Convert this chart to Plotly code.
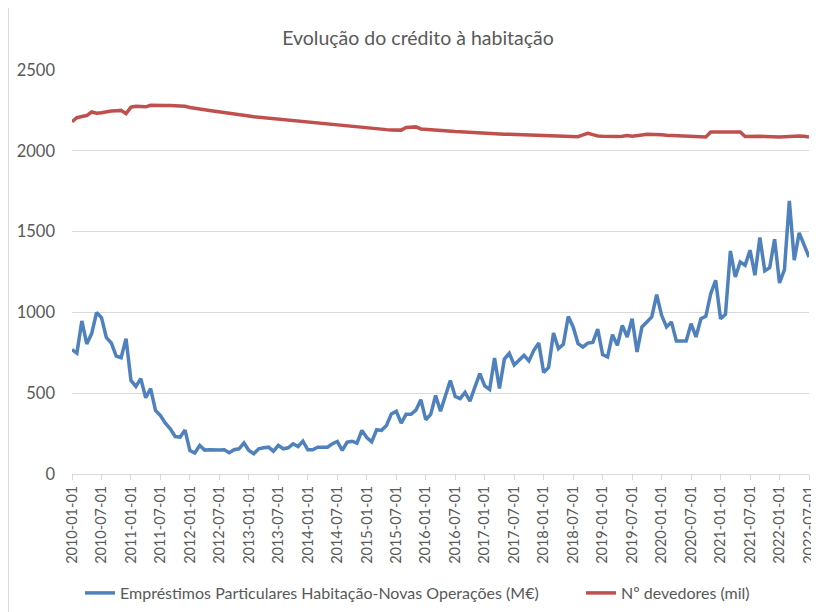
import plotly.graph_objects as go

# Monthly dates 2010-01 .. 2022-07
years = list(range(2010, 2023))
dates = [f"{y}-{m:02d}-01" for y in years for m in range(1, 13)][:151]

emprestimos = [
    770, 748, 947, 805, 869, 999, 968, 844, 811, 730, 720, 838,
    579, 542, 590, 472, 528, 393, 362, 315, 280, 232, 228, 272,
    145, 130, 177, 148, 150, 148, 148, 150, 132, 150, 156, 192,
    146, 125, 156, 162, 166, 141, 177, 156, 162, 187, 170, 203,
    150, 150, 166, 166, 166, 187, 201, 146, 197, 203, 191, 270,
    225, 199, 274, 270, 300, 372, 389, 315, 369, 369, 395, 460,
    336, 369, 486, 389, 480, 579, 480, 466, 505, 451, 538, 621,
    545, 523, 717, 529, 711, 747, 675, 701, 734, 700, 765, 810,
    628, 660, 872, 776, 802, 975, 910, 807, 786, 810, 814, 897,
    739, 724, 862, 796, 920, 848, 961, 755, 910, 941, 972, 1110,
    982, 910, 941, 823, 823, 823, 930, 848, 961, 976, 1116, 1199,
    961, 988, 1380, 1219, 1312, 1292, 1385, 1230, 1463, 1257, 1277, 1453,
    1182, 1265, 1690, 1323, 1492, 1416, 1343,
]

devedores = [
    2180, 2205, 2212, 2218, 2240, 2232, 2236, 2242, 2246, 2248, 2250, 2230,
    2270, 2275, 2276, 2272, 2282, 2283, 2282, 2281, 2280, 2280, 2278, 2275,
    2268, 2262, 2256, 2254, 2250, 2245, 2240, 2236, 2232, 2228, 2224, 2219,
    2215, 2211, 2208, 2204, 2200, 2197, 2194, 2190, 2187, 2185, 2182, 2178,
    2175, 2172, 2169, 2166, 2164, 2161, 2158, 2154, 2151, 2148, 2146, 2143,
    2141, 2138, 2136, 2133, 2131, 2129, 2128, 2128, 2144, 2146, 2148, 2135,
    2132, 2130, 2128, 2125, 2123, 2121, 2119, 2118, 2116, 2113, 2110, 2108,
    2107, 2106, 2105, 2104, 2103, 2102, 2101, 2100, 2099, 2097, 2096, 2095,
    2094, 2093, 2092, 2091, 2089, 2088, 2087, 2087, 2098, 2108, 2100, 2092,
    2090, 2088, 2087, 2088, 2090, 2094, 2090, 2092, 2098, 2102, 2102, 2101,
    2099, 2096, 2094, 2092, 2090, 2090, 2089, 2088, 2087, 2085, 2116, 2117,
    2117, 2117, 2117, 2117, 2117, 2088, 2090, 2090, 2090, 2089, 2087, 2086,
    2085, 2087, 2090, 2091, 2091, 2090, 2085,
]

tick_labels = dates[::6]
y_ticks = [0, 500, 1000, 1500, 2000, 2500]

FONT = "Lato"
GREY = "#595959"
W, H = 811, 604  # page body keeps an 8px margin

fig = go.Figure()
fig.add_trace(go.Scatter(
    x=dates, y=emprestimos, mode="lines",
    name="Empréstimos Particulares Habitação-Novas Operações (M€)",
    line=dict(color="#4F81BD", width=3.5), legend="legend",
))
fig.add_trace(go.Scatter(
    x=dates, y=devedores, mode="lines",
    name="Nº devedores (mil)",
    line=dict(color="#C0504D", width=3.5), legend="legend2",
))

leg_common = dict(orientation="h", xref="container", yref="container",
                  xanchor="left", y=1 - 585 / H, yanchor="middle",
                  font=dict(size=16, color=GREY, family=FONT),
                  bgcolor="rgba(0,0,0,0)", itemwidth=30)

fig.update_layout(
    width=W, height=H,
    margin=dict(l=64, r=10, t=62, b=138, autoexpand=False),
    paper_bgcolor="white", plot_bgcolor="white",
    font=dict(family=FONT, color=GREY, size=15),
    title=dict(text="Evolução do crédito à habitação", x=410 / W, xanchor="center",
               y=1 - 30 / H, yanchor="middle", font=dict(size=19.5, color=GREY, family=FONT)),
    showlegend=True,
    legend=dict(x=72 / W, **leg_common),
    legend2=dict(x=573 / W, **leg_common),
    shapes=[dict(type="line", xref="paper", yref="paper",
                 x0=-63.5 / 737, x1=-63.5 / 737,
                 y0=-0.4, y1=1.2, line=dict(color="#d9d9d9", width=1))],
)
fig.update_xaxes(
    type="category", range=[0, 150],
    tickmode="array", tickvals=tick_labels, ticktext=tick_labels,
    tickangle=-90, ticks="outside", ticklen=5, tickcolor="#d9d9d9",
    showline=True, linecolor="#d9d9d9", linewidth=1,
    showgrid=False, tickfont=dict(size=14.5, color=GREY, family=FONT),
)
fig.update_yaxes(
    range=[0, 2500], tickvals=y_ticks,
    showgrid=True, gridcolor="#d9d9d9", gridwidth=1,
    zeroline=False, showline=False, ticks="",
    tickfont=dict(size=16.5, color=GREY, family=FONT), ticklabelstandoff=16,
)

fig.write_html("out.html")
